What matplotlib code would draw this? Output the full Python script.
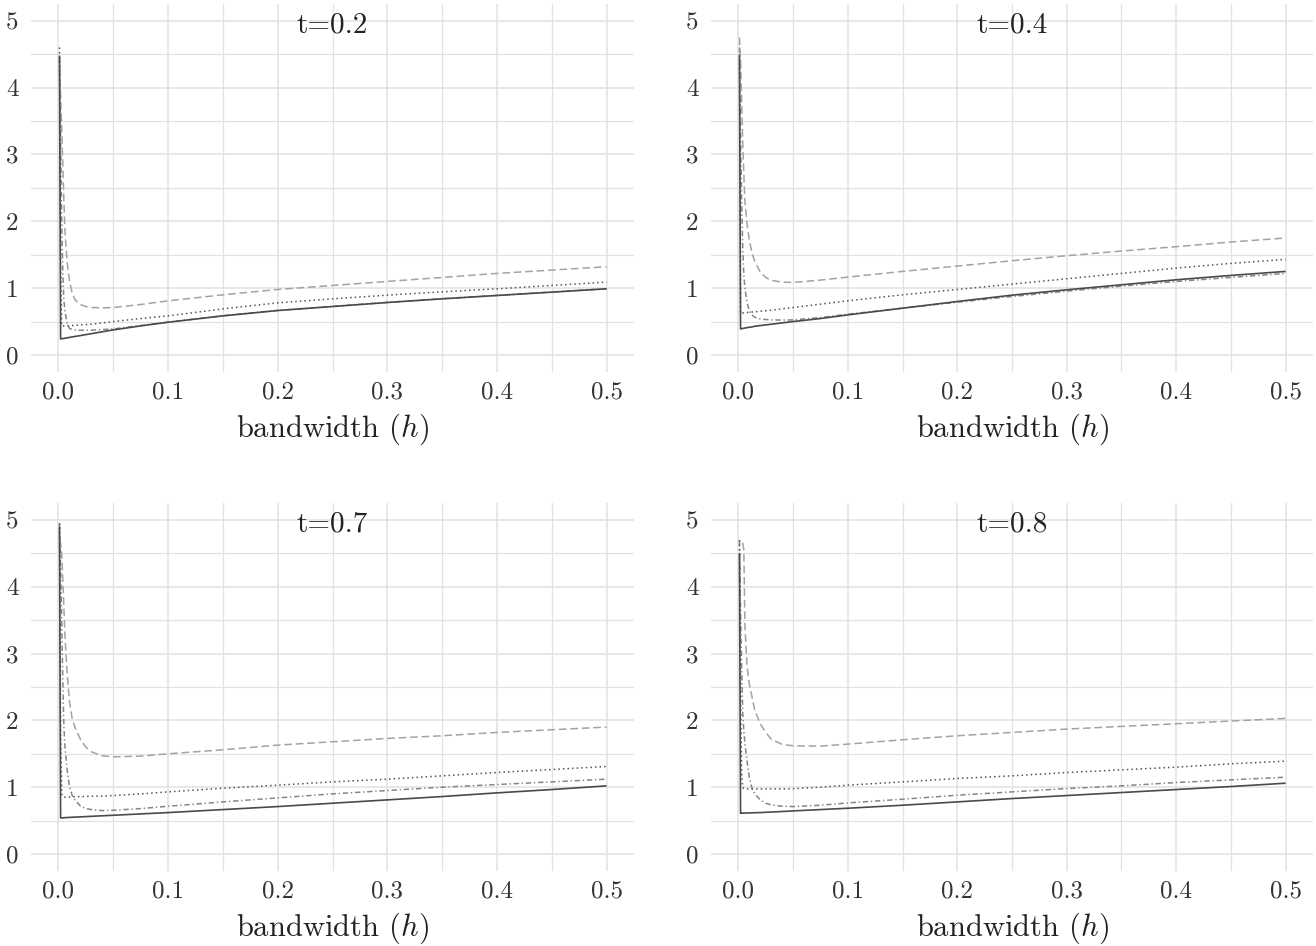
import numpy as np
import matplotlib
matplotlib.use("Agg")
import matplotlib.pyplot as plt
from matplotlib.ticker import MultipleLocator, FuncFormatter

plt.rcParams['font.family'] = 'cmr10'
plt.rcParams['mathtext.fontset'] = 'cm'
plt.rcParams['axes.unicode_minus'] = False
plt.rcParams['axes.formatter.use_mathtext'] = True

nan = np.nan
H = [0.001, 0.002, 0.003, 0.004, 0.005, 0.006, 0.008, 0.01, 0.0125, 0.015, 0.02, 0.025,
     0.03, 0.04, 0.05, 0.075, 0.1, 0.15, 0.2, 0.25, 0.3, 0.35, 0.4, 0.45, 0.5]

titles = ["t=0.2", "t=0.4", "t=0.7", "t=0.8"]

# t = 0.2
solid_02 = [4.48, 0.24, 0.243, 0.246, 0.248, 0.251, 0.257, 0.262, 0.27, 0.277, 0.29, 0.305,
            0.318, 0.347, 0.375, 0.435, 0.49, 0.585, 0.665, 0.725, 0.785, 0.84, 0.89, 0.94, 0.99]
dashed_02 = [4.3, 3.9, 3.4, 2.85, 2.3, 1.85, 1.38, 1.12, 0.93, 0.83, 0.755, 0.725,
             0.71, 0.705, 0.71, 0.755, 0.81, 0.9, 0.98, 1.04, 1.1, 1.16, 1.22, 1.27, 1.32]
dotted_02 = [4.6, 1.3, 0.435, 0.435, 0.435, 0.435, 0.437, 0.44, 0.44, 0.443, 0.45, 0.455,
             0.46, 0.48, 0.5, 0.545, 0.585, 0.69, 0.78, 0.84, 0.895, 0.945, 0.99, 1.04, 1.09]
dotdash_02 = [4.45, 3.2, 2.0, 1.22, 0.82, 0.65, 0.47, 0.40, 0.38, 0.375, 0.37, 0.37,
              0.372, 0.38, 0.39, 0.44, 0.492, 0.587, 0.667, 0.727, 0.787, 0.842, 0.892, 0.942, 0.992]

# t = 0.4
solid_04 = [4.48, 0.39, 0.393, 0.397, 0.40, 0.403, 0.41, 0.415, 0.42, 0.43, 0.44, 0.45,
            0.46, 0.48, 0.50, 0.545, 0.60, 0.70, 0.80, 0.895, 0.975, 1.05, 1.125, 1.19, 1.25]
dashed_04 = [4.75, 4.4, 3.8, 3.2, 2.7, 2.3, 1.95, 1.72, 1.52, 1.4, 1.24, 1.16,
             1.115, 1.09, 1.085, 1.12, 1.165, 1.25, 1.33, 1.41, 1.485, 1.555, 1.62, 1.69, 1.75]
dotted_04 = [4.5, 0.62, 0.625, 0.628, 0.63, 0.632, 0.636, 0.64, 0.643, 0.646, 0.655, 0.662,
             0.67, 0.69, 0.71, 0.76, 0.81, 0.9, 0.98, 1.06, 1.14, 1.22, 1.30, 1.37, 1.43]
dotdash_04 = [4.6, 3.3, 2.3, 1.6, 1.2, 1.0, 0.78, 0.66, 0.6, 0.565, 0.54, 0.53,
              0.525, 0.522, 0.525, 0.56, 0.61, 0.70, 0.79, 0.875, 0.955, 1.03, 1.10, 1.16, 1.22]

# t = 0.7
solid_07 = [4.9, 0.54, 0.541, 0.542, 0.543, 0.544, 0.546, 0.548, 0.55, 0.552, 0.556, 0.56,
            0.564, 0.572, 0.58, 0.6, 0.62, 0.665, 0.71, 0.76, 0.81, 0.86, 0.915, 0.965, 1.02]
dashed_07 = [4.7, 4.65, 4.5, 4.1, 3.7, 3.25, 2.7, 2.3, 2.03, 1.9, 1.72, 1.6,
             1.53, 1.47, 1.455, 1.465, 1.5, 1.56, 1.63, 1.68, 1.73, 1.77, 1.82, 1.86, 1.9]
dotted_07 = [4.95, 1.8, 0.9, 0.86, 0.85, 0.85, 0.85, 0.852, 0.855, 0.857, 0.86, 0.862,
             0.864, 0.868, 0.875, 0.9, 0.93, 0.985, 1.03, 1.08, 1.12, 1.17, 1.22, 1.265, 1.31]
dotdash_07 = [4.95, 4.3, 3.5, 2.6, 1.9, 1.6, 1.25, 1.02, 0.88, 0.81, 0.72, 0.68,
              0.665, 0.65, 0.655, 0.68, 0.715, 0.78, 0.84, 0.9, 0.95, 1.0, 1.04, 1.08, 1.12]

# t = 0.8
solid_08 = [4.5, 0.61, 0.611, 0.612, 0.612, 0.613, 0.614, 0.615, 0.616, 0.618, 0.62, 0.624,
            0.628, 0.636, 0.645, 0.665, 0.685, 0.73, 0.78, 0.83, 0.875, 0.92, 0.965, 1.01, 1.06]
dashed_08 = [nan, nan, nan, 4.66, 4.55, 3.4, 2.8, 2.55, 2.35, 2.15, 1.95, 1.82,
             1.72, 1.64, 1.62, 1.615, 1.645, 1.71, 1.77, 1.82, 1.87, 1.91, 1.95, 1.99, 2.03]
dotted_08 = [4.7, 2.4, 1.2, 1.0, 0.98, 0.975, 0.975, 0.975, 0.975, 0.975, 0.975, 0.975,
             0.975, 0.975, 0.978, 1.0, 1.03, 1.08, 1.13, 1.17, 1.22, 1.26, 1.3, 1.35, 1.39]
dotdash_08 = [4.69, 3.6, 2.8, 2.1, 1.85, 1.65, 1.38, 1.15, 0.98, 0.9, 0.81, 0.76,
              0.735, 0.715, 0.71, 0.73, 0.765, 0.82, 0.88, 0.93, 0.98, 1.02, 1.07, 1.11, 1.15]

panels = [
    (solid_02, dashed_02, dotted_02, dotdash_02),
    (solid_04, dashed_04, dotted_04, dotdash_04),
    (solid_07, dashed_07, dotted_07, dotdash_07),
    (solid_08, dashed_08, dotted_08, dotdash_08),
]

W, Hpx = 1316, 946
fig = plt.figure(figsize=(W / 100, Hpx / 100), dpi=100)

# axes boxes in pixels: (left, top, right, bottom)
boxes = [(31, 4, 634, 371.7), (711, 4, 1313, 371.7),
         (31, 503.3, 634, 870.7), (711, 503.3, 1313, 870.7)]

grid_col = '#e2e2e2'
fmt = FuncFormatter(lambda v, p: f"{v:.1f}")
yfmt = FuncFormatter(lambda v, p: f"{v:.0f}")

for (l, t, r, b), title, (s, da, do, dd) in zip(boxes, titles, panels):
    ax = fig.add_axes([l / W, 1 - b / Hpx, (r - l) / W, (b - t) / Hpx])
    ax.set_xlim(-0.025, 0.525)
    ax.set_ylim(-0.25, 5.25)
    ax.xaxis.set_major_locator(MultipleLocator(0.1))
    ax.xaxis.set_minor_locator(MultipleLocator(0.05))
    ax.yaxis.set_major_locator(MultipleLocator(1))
    ax.yaxis.set_minor_locator(MultipleLocator(0.5))
    ax.xaxis.set_major_formatter(fmt)
    ax.yaxis.set_major_formatter(yfmt)
    ax.grid(True, which='major', color=grid_col, lw=1.1)
    ax.grid(True, which='minor', color=grid_col, lw=0.9)
    ax.set_axisbelow(True)
    for sp in ax.spines.values():
        sp.set_visible(False)
    ax.tick_params(which='both', length=0, labelsize=18, colors='#333333', pad=7)
    ax.tick_params(axis='y', pad=9)

    ax.plot(H, dd, color='#858585', lw=1.1, dashes=(3.5, 1.8, 0.9, 1.8))
    ax.plot(H, do, color='#555555', lw=1.1, dashes=(1.0, 2.0))
    ax.plot(H, da, color='#a3a3a3', lw=1.1, dashes=(5.0, 2.5))
    ax.plot(H, s, color='#4a4a4a', lw=1.2, solid_capstyle='butt')

    ax.text(0.25, 4.93, title, ha='center', va='center', fontsize=21, color='#222222')
    ax.set_xlabel(r'bandwidth ($h$)', fontsize=22, color='#222222', labelpad=6)

fig.savefig('out.png', dpi=100)
